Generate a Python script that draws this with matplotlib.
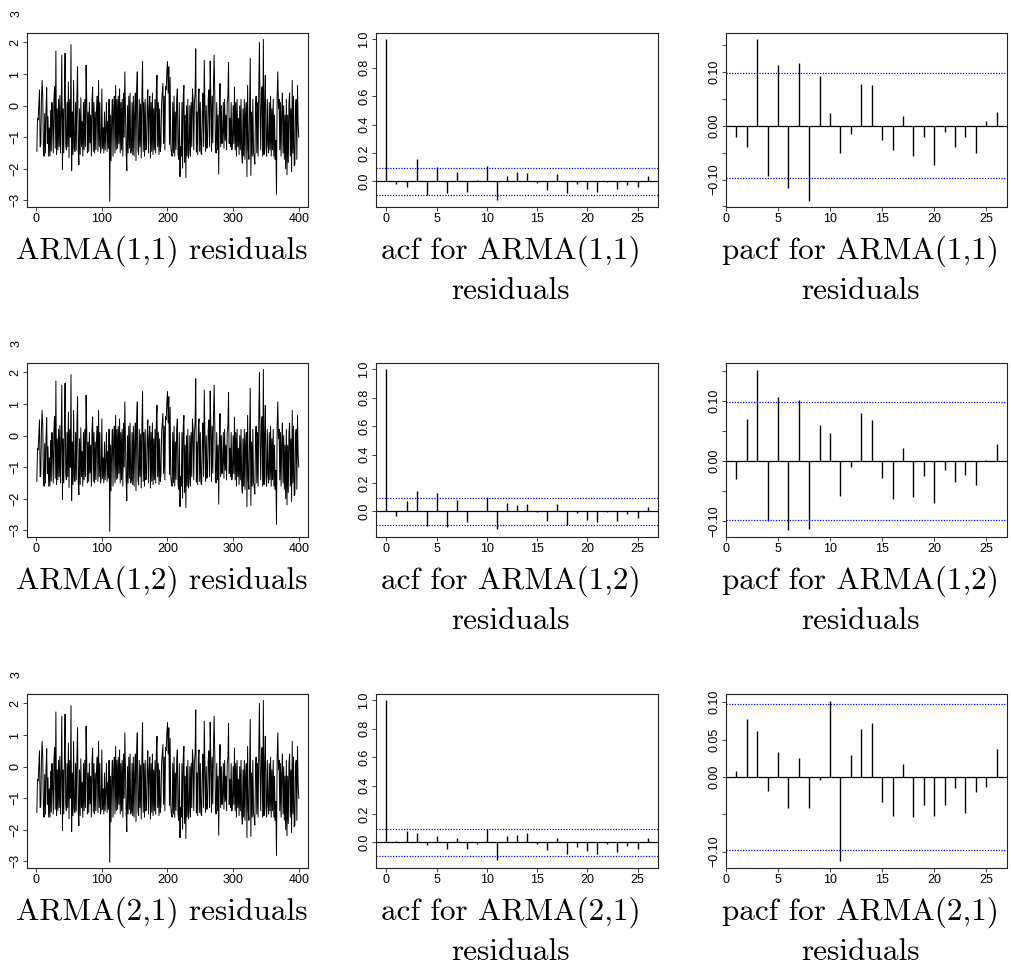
import numpy as np
import matplotlib
matplotlib.use("Agg")
import matplotlib.pyplot as plt

# residual series (same look in all three rows)
resid = [
    -1.45, -0.40, -0.45, 0.05, 0.50, -1.30, -1.25, 0.20, 0.80, 0.30, -1.40, -1.60, -0.25, -1.50, -0.10, 0.57, -1.20, -0.35, -1.60, -0.70,
    -1.60, -0.15, -1.44, 0.10, -0.60, -1.50, 0.20, 0.60, -1.35, 1.73, -1.55, -0.10, -1.40, 0.20, -1.30, 0.32, -1.50, -0.20, 1.60, -2.03,
    -0.10, -1.50, 0.30, 1.66, -1.20, -1.40, 0.10, -1.30, 0.75, -1.65, 0.20, -1.00, 1.93, -2.06, -0.20, -1.55, 0.80, -1.35, -1.45, 0.10,
    -1.40, 0.30, 1.23, -1.40, -1.87, -0.10, -1.55, 0.25, -1.30, -0.50, -1.60, 0.10, -1.40, 0.20, -1.30, 1.28, 0.20, -1.50, -0.20, -1.45,
    0.10, -1.18, -0.30, -1.60, 0.20, 0.59, -1.45, 0.10, -1.50, -0.20, -1.39, -0.10, 0.30, -1.45, 0.80, -1.30, 0.10, -1.50, -1.34, 0.53,
    -1.35, -0.70, -1.50, -0.20, -1.40, -0.80, 0.10, -1.45, -0.50, -1.35, 0.20, -3.03, -0.30, -1.75, -0.40, 0.20, -1.60, -0.10, 0.30, -1.50,
    0.64, -1.39, 0.20, -1.35, 0.30, -1.20, 0.53, -1.50, 0.10, -1.40, 0.20, -1.60, 0.40, -1.00, 1.07, -0.10, -1.45, -2.06, 0.00, -1.50,
    0.30, -1.35, 0.40, -1.50, -1.39, 0.10, -1.55, 0.30, -1.60, -0.20, 0.40, -1.74, 0.50, 1.07, -1.40, -1.55, 0.20, -1.30, 0.05, -1.66,
    0.30, 1.39, -1.45, 0.10, -1.60, 0.20, -1.40, -1.34, 0.00, 0.50, -1.50, -0.10, 0.30, -1.66, 0.10, -1.45, 0.40, -1.55, -0.10, -1.40,
    0.20, -1.50, 0.50, 0.96, -1.30, 0.10, -1.55, -0.10, -1.45, -1.23, 0.10, 0.40, 0.70, -1.20, 0.30, -1.40, 0.60, 0.50, 1.07, 1.39,
    0.40, 1.23, -1.23, 0.90, -1.30, -1.50, -1.60, 0.10, -1.50, 0.30, -1.60, -0.20, -1.39, 0.20, 0.53, -1.50, -1.70, 0.10, -2.25, -1.30,
    -1.60, 0.10, -1.98, 0.30, 0.64, -1.80, -0.30, -2.28, 0.00, -1.60, 0.20, -1.66, -1.40, 0.00, -1.60, 0.10, -1.30, 0.53, 0.20, -1.40,
    0.10, 0.40, 1.80, -1.47, -0.20, -1.55, 0.30, 0.53, -1.45, 0.10, -1.50, -1.55, -0.20, 0.40, -1.30, 1.44, 0.10, -1.45, 0.00, -1.35,
    -1.12, 0.20, 0.50, -1.30, 1.41, 0.20, -1.45, 0.30, -1.18, 0.60, 1.60, 0.40, -1.30, -1.50, 0.10, -1.40, -0.30, -2.17, -0.10, 0.70,
    -1.30, 0.00, -1.20, -0.91, 0.10, -1.35, 0.20, -1.10, -0.30, -1.40, 0.10, 0.30, 1.37, -1.20, -0.40, -1.30, 0.10, -1.40, -1.07, 0.00,
    -1.20, 0.59, -1.40, 0.10, -1.60, 0.20, -1.30, -0.40, -1.55, 0.00, -1.40, 0.20, -1.50, -1.82, -0.10, -1.60, 0.20, -1.70, -0.30, 0.10,
    -2.25, 0.64, -1.40, -1.70, 0.00, 1.50, -2.21, -0.20, -1.60, 0.20, -1.50, -1.60, -1.85, -0.10, 0.30, -1.50, 0.10, -1.60, 0.50, 2.00,
    -0.20, -1.40, 0.40, 0.60, -1.60, 2.10, -1.55, 0.00, 0.96, -1.30, -1.60, 0.20, -1.20, -1.50, 0.10, -1.40, 0.30, -1.60, -0.10, -1.40,
    0.20, -1.60, -0.30, -1.70, -1.10, -2.81, 0.30, 1.07, -0.10, 0.20, -1.40, 0.10, -1.60, -0.20, 0.40, -1.50, 0.00, -1.70, -0.30, -2.00,
    0.20, -2.19, -0.30, -1.80, 0.10, 0.40, -1.60, -0.10, -2.09, 0.80, -1.50, 0.30, -1.90, -1.85, 0.00, 0.20, -1.70, 0.64, -0.60, -1.00,
]

models = ["ARMA(1,1)", "ARMA(1,2)", "ARMA(2,1)"]

# acf, lags 1..26 (lag 0 is 1.0)
acf_11 = [-0.02, -0.04, 0.16, -0.096, 0.10, -0.08, 0.066, -0.073, 0.01, 0.108, -0.13, 0.038, 0.066,
          0.059, -0.01, -0.06, 0.054, -0.082, -0.016, -0.05, -0.073, -0.002, -0.052, -0.028, -0.038, 0.038]
acf_12 = [-0.035, 0.072, 0.147, -0.103, 0.131, -0.11, 0.082, -0.075, 0.005, 0.10, -0.126, 0.056, 0.044,
          0.054, -0.005, -0.065, 0.054, -0.098, -0.014, -0.061, -0.077, -0.007, -0.065, -0.021, -0.047, 0.028]
acf_21 = [0.009, 0.079, 0.063, -0.019, 0.042, -0.044, 0.028, -0.047, -0.009, 0.096, -0.124, 0.044, 0.051,
          0.065, -0.012, -0.054, 0.033, -0.082, -0.033, -0.061, -0.082, -0.009, -0.068, -0.026, -0.049, 0.030]

# pacf, lags 1..26
pacf_11 = [-0.021, -0.040, 0.161, -0.093, 0.113, -0.116, 0.116, -0.139, 0.093, 0.024, -0.051, -0.015, 0.078,
           0.075, -0.026, -0.046, 0.017, -0.057, -0.021, -0.073, -0.012, -0.040, -0.021, -0.050, 0.008, 0.026]
pacf_12 = [-0.031, 0.070, 0.152, -0.100, 0.106, -0.116, 0.102, -0.113, 0.060, 0.046, -0.058, -0.011, 0.080,
           0.068, -0.029, -0.064, 0.021, -0.061, -0.026, -0.071, -0.015, -0.036, -0.023, -0.041, 0.001, 0.028]
pacf_21 = [0.008, 0.078, 0.061, -0.019, 0.034, -0.041, 0.025, -0.041, -0.004, 0.102, -0.113, 0.029, 0.064,
           0.072, -0.033, -0.052, 0.017, -0.054, -0.038, -0.053, -0.037, -0.015, -0.049, -0.020, -0.014, 0.037]

acfs = [acf_11, acf_12, acf_21]
pacfs = [pacf_11, pacf_12, pacf_21]
pacf_ylims = [(-0.151, 0.172), (-0.127, 0.163), (-0.122, 0.111)]
pacf_labelled = [[-0.10, 0.0, 0.10], [-0.10, 0.0, 0.10], [-0.10, 0.0, 0.05, 0.10]]
ci = 1.96 / np.sqrt(len(resid))

W, H = 1011, 969
col_left = [27, 376, 726]
col_width = [281, 282, 281]
row_top = [33, 363, 694]
row_h = 174

TICK_FONT = dict(family="Liberation Sans", size=9)
TITLE_FONT = dict(family="cmr10", size=22.5)


def make_axes(fig, row, col):
    l, w, t = col_left[col], col_width[col], row_top[row]
    ax = fig.add_axes([l / W, 1 - (t + row_h) / H, w / W, row_h / H])
    for sp in ax.spines.values():
        sp.set_linewidth(0.8)
        sp.set_color("#222222")
    ax.tick_params(direction="out", length=3, width=0.6, pad=1.2,
                   labelsize=TICK_FONT["size"], color="#222222")
    return ax


def fmt(v, nd):
    s = f"{v:.{nd}f}"
    return s.replace("-", "\u2212")


def set_yticks(ax, ticks, labelled, nd):
    ax.set_yticks(ticks)
    labels = [fmt(t, nd) if any(abs(t - u) < 1e-9 for u in labelled) else "" for t in ticks]
    ax.set_yticklabels(labels, rotation=90, va="center", fontdict=TICK_FONT)


def titles(fig, row, col, lines):
    cx = (col_left[col] + col_width[col] / 2 - 6) / W
    base = row_top[row] + row_h
    for k, txt in enumerate(lines):
        fig.text(cx, 1 - (base + 52 + 40 * k) / H, txt, ha="center",
                 va="baseline", **TITLE_FONT)


def plot_resid(ax):
    ax.plot(np.arange(1, len(resid) + 1), resid, color="black", lw=0.7)
    ax.set_xlim(-14, 414)
    ax.set_ylim(-3.21, 2.30)
    ax.set_xticks([0, 100, 200, 300, 400])
    ax.set_xticklabels(["0", "100", "200", "300", "400"], fontdict=TICK_FONT)
    set_yticks(ax, [-3, -2, -1, 0, 1, 2], [-3, -2, -1, 0, 1, 2], 0)
    ax.text(-0.016, 2.92, "3", transform=ax.get_yaxis_transform(), rotation=90,
            ha="right", va="center", clip_on=False, **TICK_FONT)


def plot_corr(ax, lags, vals, xlim, ylim):
    ax.vlines(lags, 0, vals, color="black", lw=1.0)
    ax.axhline(0, color="black", lw=0.9)
    for c in (ci, -ci):
        ax.axhline(c, color="blue", lw=0.9, ls=(0, (1, 1.2)))
    ax.set_xlim(*xlim)
    ax.set_ylim(*ylim)
    ax.set_xticks([0, 5, 10, 15, 20, 25])
    ax.set_xticklabels(["0", "5", "10", "15", "20", "25"], fontdict=TICK_FONT)


fig = plt.figure(figsize=(W / 100, H / 100), dpi=100)

for row, name in enumerate(models):
    ax = make_axes(fig, row, 0)
    plot_resid(ax)
    titles(fig, row, 0, [f"{name} residuals"])

    ax = make_axes(fig, row, 1)
    plot_corr(ax, np.arange(0, 27), [1.0] + acfs[row], (-1.04, 27.04), (-0.18, 1.045))
    yt = [0.0, 0.2, 0.4, 0.6, 0.8, 1.0]
    set_yticks(ax, yt, yt, 1)
    titles(fig, row, 1, [f"acf for {name}", "residuals"])

    ax = make_axes(fig, row, 2)
    lo, hi = pacf_ylims[row]
    plot_corr(ax, np.arange(1, 27), pacfs[row], (0, 27), (lo, hi))
    yt = [t for t in [-0.15, -0.10, -0.05, 0.0, 0.05, 0.10, 0.15] if lo <= t <= hi]
    set_yticks(ax, yt, pacf_labelled[row], 2)
    titles(fig, row, 2, [f"pacf for {name}", "residuals"])

fig.savefig("out.png", dpi=100)
